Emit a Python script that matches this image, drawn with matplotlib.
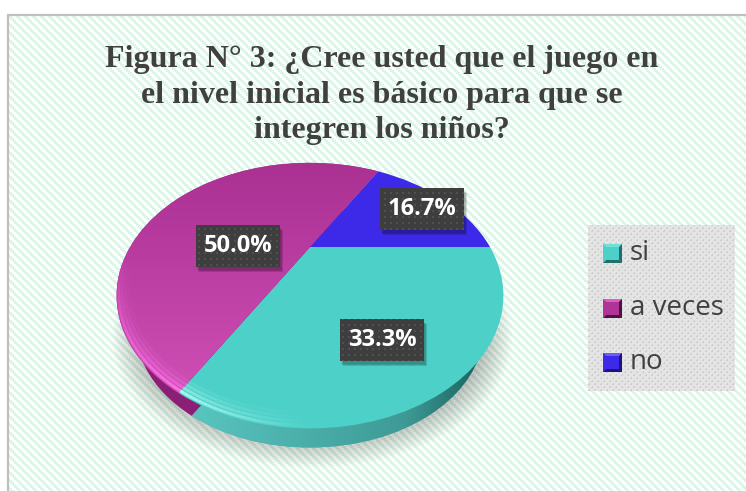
import matplotlib
matplotlib.use("Agg")
import matplotlib.pyplot as plt
import numpy as np
from matplotlib.patches import Ellipse, Polygon, Rectangle
from matplotlib.transforms import Transform

W, H = 746, 491

categorias = ["si", "a veces", "no"]
valores = [33.3, 50.0, 16.7]
colores = ["#4dd0c8", "#b03496", "#3d2ae8"]
colores_lado = ["#3fa8a3", "#8a1f75", "#2a1cb0"]
titulo = "Figura N° 3: ¿Cree usted que el juego en\nel nivel inicial es básico para que se\nintegren los niños?"


class Perspectiva(Transform):
    # circulo unitario visto inclinado, el centro queda desplazado hacia atras
    input_dims = 2
    output_dims = 2

    def __init__(self, cx, cy, a, b, k):
        super().__init__()
        self.cx, self.cy, self.a, self.b, self.k = cx, cy, a, b, k

    def transform_non_affine(self, values):
        values = np.asarray(values, dtype=float)
        d = 1 + self.k * values[:, 1]
        return np.column_stack([self.cx + self.a * values[:, 0] / d,
                                self.cy - self.b * values[:, 1] / d])


def textura(ax, x0, x1, y0, y1, patron, zorder):
    xx, yy = np.meshgrid(np.arange(x0, x1), np.arange(y0, y1))
    return ax.imshow(patron(xx, yy), extent=(x0, x1, y1, y0), interpolation="nearest",
                     aspect="auto", zorder=zorder)


def rayas(xx, yy):
    img = np.ones(xx.shape + (3,))
    img[(xx // 2 - yy // 2) % 4 < 2] = np.array([218, 246, 230]) / 255
    return img


def tejido(xx, yy):
    img = np.ones(xx.shape + (3,)) * 228 / 255
    m = ((xx + yy) % 6 < 2) & ((xx - yy) % 6 < 3)
    img[m] = 205 / 255
    return img


def puntos(xx, yy):
    img = np.ones(xx.shape + (3,)) * 62 / 255
    img[(xx % 6 < 2) & (yy % 6 < 2)] = 80 / 255
    return img


def cuadro_biselado(ax, x, y, s, color, claro, oscuro):
    b = 3
    ax.add_patch(Rectangle((x, y), s, s, fc=color, ec="none", zorder=6))
    ax.add_patch(Polygon([(x, y), (x + s, y), (x + s - b, y + b), (x + b, y + b)], fc=claro, ec="none", zorder=7))
    ax.add_patch(Polygon([(x, y + s), (x + s, y + s), (x + s - b, y + s - b), (x + b, y + s - b)], fc=oscuro, ec="none", zorder=7))
    ax.add_patch(Polygon([(x + s, y), (x + s, y + s), (x + s - b, y + s - b), (x + s - b, y + b)], fc=oscuro, ec="none", zorder=7))
    ax.add_patch(Polygon([(x, y), (x, y + s), (x + b, y + s - b), (x + b, y + b)], fc=color, ec="none", zorder=7))


fig = plt.figure(figsize=(W / 100, H / 100), dpi=100, facecolor="white")
ax = fig.add_axes([0, 0, 1, 1])

# fondo y marco
textura(ax, 8, W + 2, 15, H + 2, rayas, 0)
ax.plot([7.5, 7.5, W + 2], [H + 2, 15, 15], color="#bfbfbf", lw=1.6, zorder=1, solid_joinstyle="miter")

# sombra difusa bajo la torta
for i in range(30):
    f = i / 29
    ax.add_patch(Ellipse((312, 338), 2 * (200 - 42 * f), 2 * (130 - 40 * f),
                         fc="#404040", ec="none", alpha=0.017, zorder=2))

tapa = Perspectiva(310, 247, 180, 115, 0.366)
lado = Perspectiva(310, 285, 162, 103, 0.366)

# lado de la torta
cuñas_lado, _ = ax.pie(valores, colors=colores_lado, startangle=0, counterclock=False)
for c in cuñas_lado:
    c.set_transform(lado + ax.transData)
    c.set_linewidth(0)
    c.set_zorder(3)
xs = np.linspace(0, 1, 340)[None, :, None]
xs = np.where(xs < 0.75, xs / 0.75 * 0.45, 0.45 + (xs - 0.75) / 0.25 * 0.55)
base = np.array([95, 205, 200]) / 255
fin = np.array([22, 92, 88]) / 255
grad = ax.imshow(base * (1 - xs) + fin * xs, extent=(150, 490, 460, 300), aspect="auto", zorder=3.5)
grad.set_clip_path(cuñas_lado[0].get_path(), cuñas_lado[0].get_transform())

# cara superior
cuñas, _ = ax.pie(valores, colors=colores, startangle=0, counterclock=False)
for c in cuñas:
    c.set_transform(tapa + ax.transData)
    c.set_linewidth(0)
    c.set_zorder(4)
ys = np.linspace(0, 1, 240)[:, None, None]
arriba = np.array([170, 48, 146]) / 255
abajo = np.array([208, 80, 182]) / 255
grad2 = ax.imshow(arriba * (1 - ys) + abajo * ys, extent=(110, 390, 400, 160), aspect="auto", zorder=4.5)
grad2.set_clip_path(cuñas[1].get_path(), cuñas[1].get_transform())

# brillo del borde, banda ancha que se apaga hacia adentro
for t0, t1, col, a0, a1 in [(-175, -120, "#ff78ee", 0.0, 0.85), (-120, -90, "#b8fff8", 0.85, 0.0)]:
    ts = np.linspace(t0, t1, 25)
    al = np.linspace(a0, a1, 24)
    for r, peso in [(0.99, 1.0), (0.975, 0.6), (0.96, 0.35), (0.945, 0.15)]:
        for i in range(24):
            th = np.radians(ts[i:i + 2])
            ax.plot(r * np.cos(th), r * np.sin(th), color=col, alpha=al[i] * peso, lw=2.2,
                    transform=tapa + ax.transData, zorder=5, solid_capstyle="butt")

# etiquetas de datos
cajas = [(340, 319), (196, 225), (380, 188)]
for (x, y), v in zip(cajas, valores):
    for i in range(5):
        ax.add_patch(Rectangle((x + 1 + i * 0.6, y + 3 + i * 0.6), 84, 42, fc="black", ec="none", alpha=0.07, zorder=5.5))
    textura(ax, x, x + 84, y, y + 42, puntos, 6)
    ax.text(x + 42, y + 21, f"{v:.1f}%", color="white", fontsize=17, fontweight="bold", family="Open Sans",
            ha="center", va="center", zorder=7)

# leyenda
textura(ax, 588, 735, 225, 391, tejido, 5)
pos_leyenda = [244, 299, 353]
biseles = [("#4dd0c8", "#6fe0d8", "#1f6f6c"), ("#b03496", "#d860c0", "#501045"), ("#3d2ae8", "#6a5cf5", "#1c1280")]
for y, nombre, (col, cl, os_) in zip(pos_leyenda, categorias, biseles):
    cuadro_biselado(ax, 603, y, 19, col, cl, os_)
    ax.text(630, y + 9, nombre, color="#404040", fontsize=20, family="Open Sans", va="center", ha="left", zorder=7)

ax.text(382, 95, titulo, color="#404040", fontsize=23, fontweight="bold", family="Liberation Serif",
        ha="center", va="center", linespacing=1.3, zorder=7)

ax.set_aspect("auto")
ax.set_xlim(0, W)
ax.set_ylim(H, 0)
ax.axis("off")
fig.savefig("out.png", dpi=100, facecolor="white")
